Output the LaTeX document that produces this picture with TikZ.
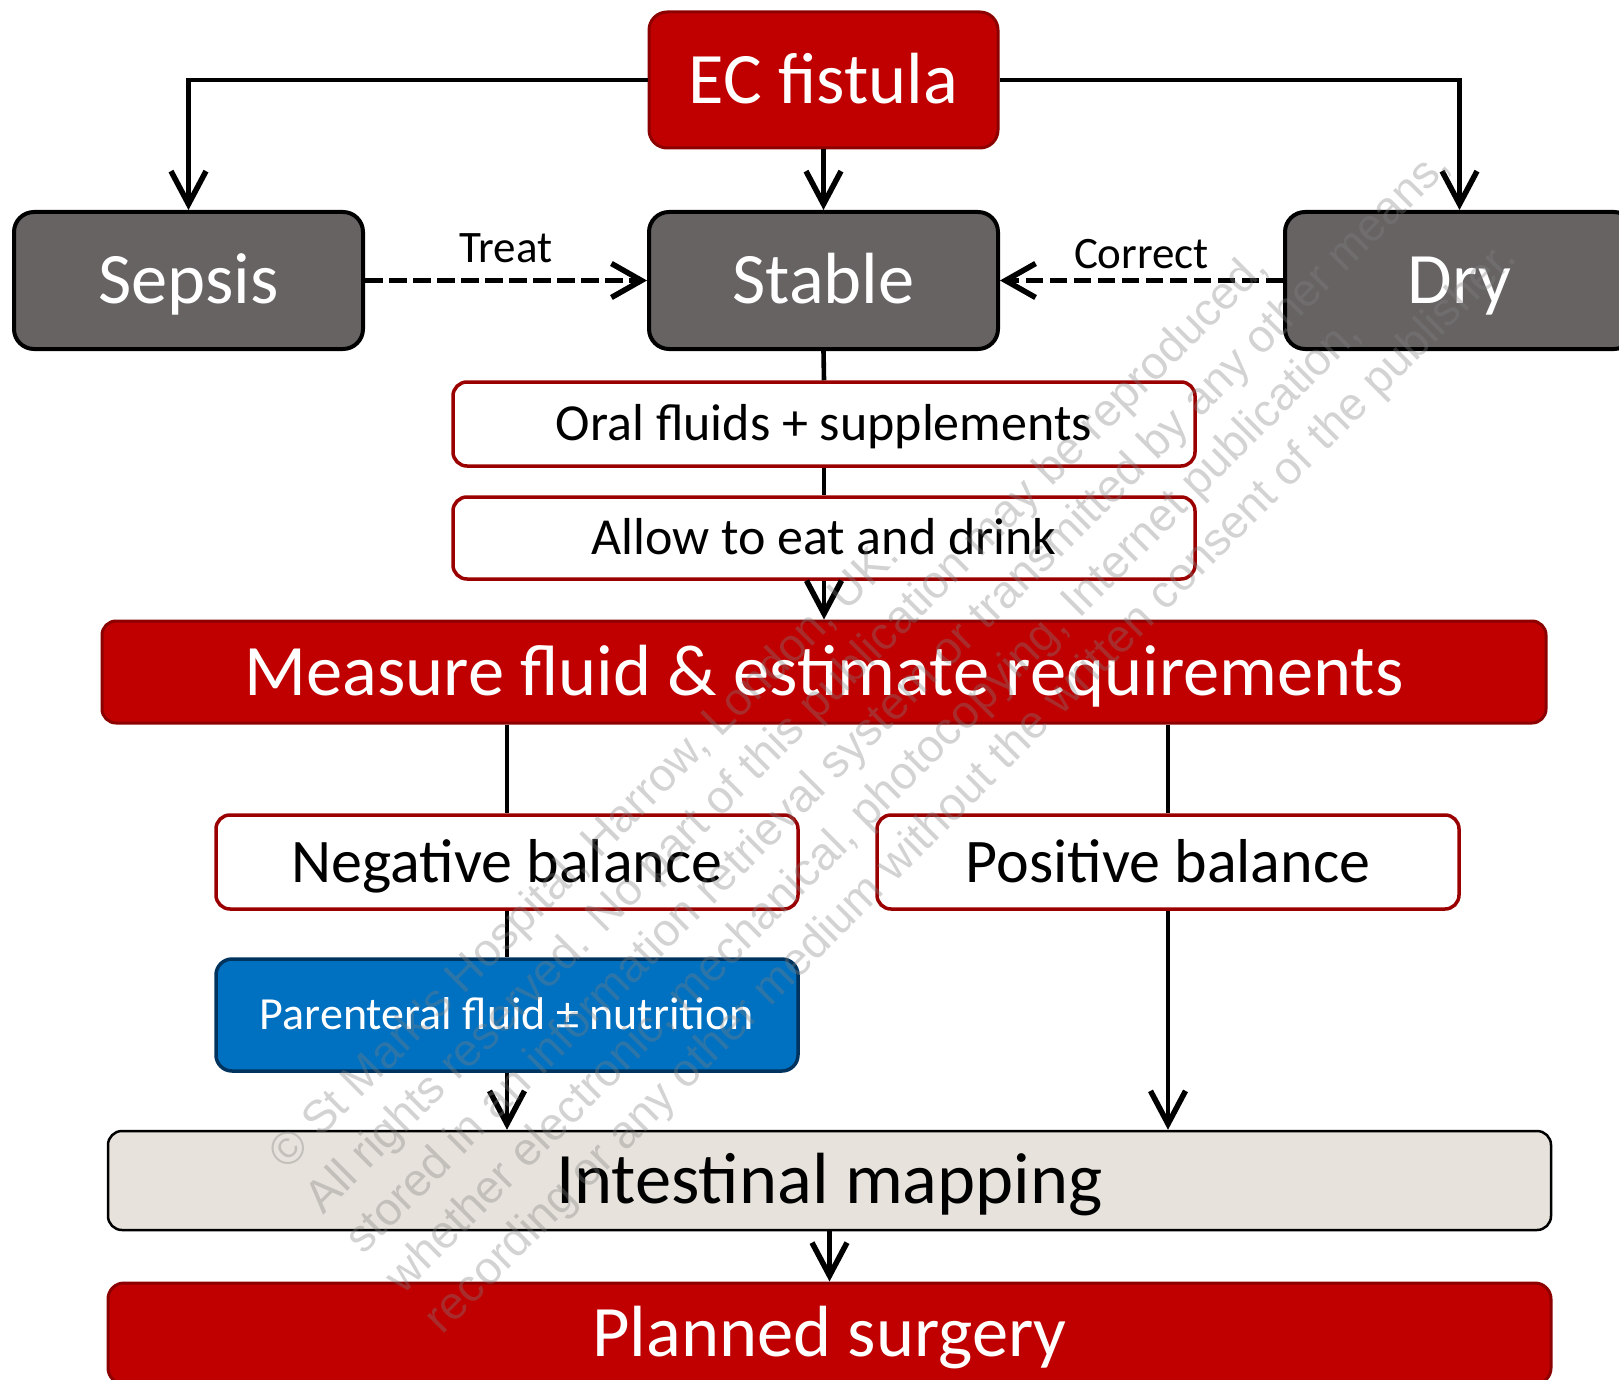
\documentclass[tikz,border=0pt]{standalone}
\usepackage{fontspec}
\setmainfont{Carlito}
\newfontfamily\wmfont{Liberation Sans}
\usetikzlibrary{arrows.meta}
\definecolor{ecred}{HTML}{C00000}
\definecolor{ecredline}{HTML}{8C0000}
\definecolor{grayfill}{HTML}{676363}
\definecolor{bluefill}{HTML}{0070C0}
\definecolor{blueline}{HTML}{00345E}
\definecolor{tanfill}{HTML}{E7E3DC}
\definecolor{wline}{HTML}{9A0000}
\begin{document}
\begin{tikzpicture}[x=1pt,y=-1pt,
  box/.style={rectangle, inner sep=0pt, text depth=0pt, align=center},
  bigfont/.style={font=\fontsize{72.5}{80}\selectfont, text height=46.7pt},
  midfont/.style={font=\fontsize{62}{68}\selectfont, text height=40pt},
  smallfont/.style={font=\fontsize{52}{58}\selectfont, text height=33.5pt},
  parfont/.style={font=\fontsize{46}{52}\selectfont, text height=29.6pt},
  redbox/.style={box, bigfont, fill=ecred, draw=ecredline, line width=3pt, text=white, rounded corners=18pt},
  greybox/.style={box, bigfont, fill=grayfill, draw=black, line width=4pt, text=white, rounded corners=20pt, minimum width=349pt, minimum height=137pt},
  whitebox/.style={box, fill=white, draw=wline, line width=3.5pt, rounded corners=14pt},
  conn/.style={line width=4.6pt, draw=black},
  arr/.style={conn, -{Straight Barb[length=33pt, width=35pt, line width=5.5pt]}},
  dasharr/.style={line width=5.5pt, draw=black, dash pattern=on 17.5pt off 6.5pt, -{Straight Barb[length=30pt, width=34pt, line width=5.5pt]}},
  lbl/.style={font=\fontsize{45}{50}\selectfont, inner sep=0pt, text height=29pt, text depth=0pt, solid},
  wm/.style={font=\wmfont\fontsize{46}{50}\selectfont, text=black!50, opacity=0.35, text opacity=0.35, rotate=45, anchor=base west, inner sep=0pt}
]
\useasboundingbox (0,0) rectangle (1619,1380);

% nodes
\node[redbox, minimum width=349pt, minimum height=136pt] (ec) at (823.5,80) {EC fistula};
\node[greybox] (sepsis) at (188.5,280.5) {Sepsis};
\node[greybox] (stable) at (823.5,280.5) {Stable};
\node[greybox] (dry) at (1459.5,280.5) {Dry};
\node[whitebox, smallfont, minimum width=742pt, minimum height=84pt] (oral) at (824,424) {Oral fluids + supplements};
\node[whitebox, smallfont, minimum width=742pt, minimum height=82pt] (allow) at (824,538) {Allow to eat and drink};
\node[redbox, minimum width=1444pt, minimum height=102pt, rounded corners=14pt] (measure) at (824,672) {Measure fluid \& estimate requirements};
\node[whitebox, midfont, minimum width=582pt, minimum height=94pt] (neg) at (507,862) {Negative balance};
\node[whitebox, midfont, minimum width=582pt, minimum height=94pt] (pos) at (1168,862) {Positive balance};
\node[box, parfont, fill=bluefill, draw=blueline, line width=3.5pt, rounded corners=16pt, text=white, minimum width=582pt, minimum height=112pt] (par) at (507,1015) {Parenteral fluid ± nutrition};
\node[box, bigfont, fill=tanfill, draw=black, line width=2.5pt, rounded corners=14pt, minimum width=1443pt, minimum height=99pt] (int) at (829.5,1180.5) {Intestinal mapping};
\node[redbox, minimum width=1443pt, minimum height=101pt, rounded corners=16pt] (plan) at (829.5,1333.5) {Planned surgery};

% connectors
\draw[arr] (ec.west) -| (sepsis.north);
\draw[arr] (ec.east) -| (dry.north);
\draw[arr] (ec.south) -- (stable.north);
\draw[dasharr] (sepsis.east) -- node[lbl, midway, yshift=32.5pt] {Treat} (stable.west);
\draw[dasharr] (dry.west) -- node[lbl, midway, yshift=26pt] {Correct} (stable.east);
\draw[conn] (stable.south) -- (oral.north);
\draw[conn] (oral.south) -- (allow.north);
\draw[arr] (allow.south) -- (measure.north);
\draw[conn] (neg.north |- measure.south) -- (neg.north);
\draw[conn] (pos.north |- measure.south) -- (pos.north);
\draw[conn] (neg.south) -- (par.north);
\draw[arr] (par.south) -- (par.south |- int.north);
\draw[arr] (pos.south) -- (pos.south |- int.north);
\draw[arr] (int.south) -- (plan.north);

% watermark
\node[wm] (wm1) at (287,1172) {© St Mark's Hospital, Harrow, London, UK.};
\node[wm] (wm2) at (323.3,1215.8) {All rights reserved. No part of this publication may be reproduced,};
\node[wm] (wm3) at (363.1,1255.6) {stored in an information retrieval system or transmitted by any other means,};
\node[wm] (wm4) at (402.9,1295.4) {whether electronic, mechanical, photocopying, Internet publication,};
\node[wm] (wm5) at (442.7,1335.2) {recording or any other medium without the written consent of the publisher.};
\end{tikzpicture}
\end{document}
